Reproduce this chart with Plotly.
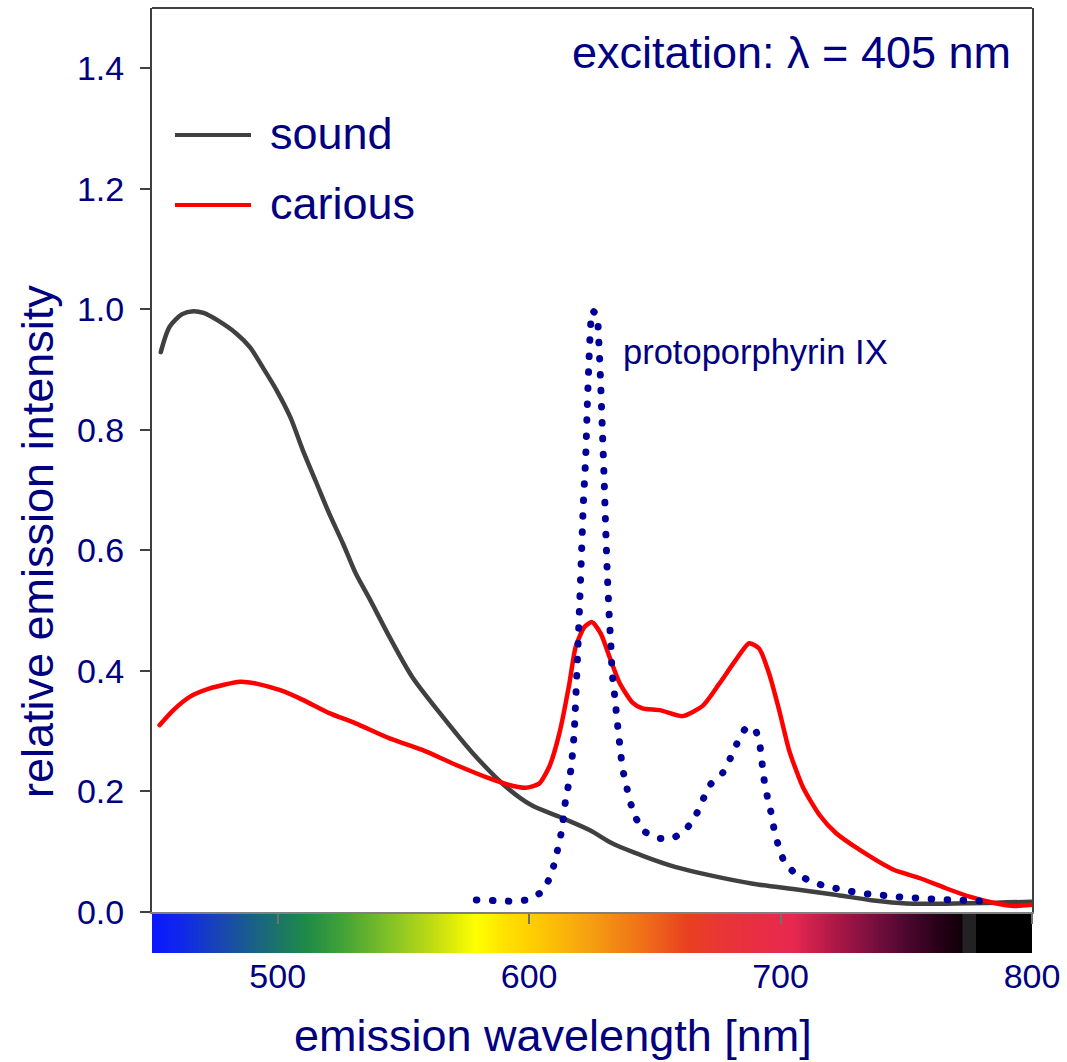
import numpy as np
import plotly.graph_objects as go

# ---------------- data ----------------
sound_nm = [453.5, 457, 462, 466.5, 470.5, 476, 483.5, 489, 494, 499.5, 505, 510,
            515.5, 520.5, 526, 531, 536.5, 544.5, 553.5, 564.5, 577.5, 591, 601,
            612, 624, 633, 646, 658, 673, 689, 705, 721, 737, 750, 769, 782, 790, 800]
sound_y = [0.929, 0.971, 0.992, 0.997, 0.994, 0.982, 0.960, 0.937, 0.904, 0.866,
           0.821, 0.766, 0.711, 0.661, 0.611, 0.562, 0.520, 0.456, 0.390, 0.330,
           0.264, 0.207, 0.177, 0.158, 0.136, 0.114, 0.092, 0.075, 0.060, 0.047,
           0.038, 0.029, 0.019, 0.014, 0.014, 0.015, 0.016, 0.017]

carious_nm = [453, 458.5, 465, 473, 485, 491.5, 501, 510, 520.5, 531, 544.5, 557.5,
              571, 584, 591, 598.5, 604, 608, 612, 616, 618.5, 622, 625, 628.5, 632,
              636, 641, 645, 652, 661, 669, 675.5, 682, 687.5, 691.5, 695.5, 699.5,
              703.5, 709, 715.5, 722, 731.5, 745, 755.5, 766, 775.5, 785, 793, 800]
carious_y = [0.310, 0.335, 0.357, 0.371, 0.382, 0.379, 0.368, 0.352, 0.330, 0.313,
             0.288, 0.269, 0.244, 0.222, 0.212, 0.206, 0.213, 0.241, 0.296, 0.379,
             0.440, 0.473, 0.481, 0.462, 0.423, 0.380, 0.348, 0.338, 0.335, 0.325,
             0.342, 0.378, 0.417, 0.446, 0.437, 0.395, 0.334, 0.267, 0.206, 0.161,
             0.131, 0.103, 0.070, 0.056, 0.039, 0.025, 0.015, 0.010, 0.012]

ppix_nm = [579, 586, 592.5, 599, 605.3, 608.3, 610.2, 611.6, 613, 614.6, 615.9, 616.8,
           617.9, 619.6, 620.1, 620.8, 621.5, 622.5, 623.1, 623.8, 624.4, 625.1, 627.0,
           627.5, 628.4, 629.1, 629.8, 630.4, 631.1, 632.0, 632.4, 633.0, 633.7, 634.4,
           635.0, 635.7, 636.4, 637.3, 638.6, 640.1, 642.3, 645.7, 651.4, 657.8, 662.9,
           666.6, 669.3, 672.2, 677, 680, 682.6, 685.8, 688, 690.3, 691.9, 692.7, 693.5,
           694.7, 696.2, 697.4, 699, 701.1, 705.2, 711, 716.9, 723.3, 729.7, 736.3,
           742.8, 749.1, 755.7, 762.2, 768.6, 775.1, 781.6]
ppix_y = [0.020, 0.019, 0.018, 0.020, 0.034, 0.058, 0.083, 0.109, 0.136, 0.189, 0.216,
          0.243, 0.296, 0.459, 0.512, 0.592, 0.673, 0.755, 0.836, 0.915, 0.971, 0.998,
          0.990, 0.965, 0.882, 0.802, 0.722, 0.642, 0.559, 0.479, 0.452, 0.398, 0.371,
          0.343, 0.317, 0.291, 0.263, 0.235, 0.211, 0.184, 0.157, 0.134, 0.122, 0.124,
          0.140, 0.163, 0.188, 0.212, 0.231, 0.255, 0.279, 0.303, 0.308, 0.299, 0.273,
          0.245, 0.218, 0.192, 0.165, 0.138, 0.112, 0.087, 0.066, 0.053, 0.044, 0.038,
          0.033, 0.029, 0.027, 0.024, 0.023, 0.021, 0.020, 0.019, 0.018]

x_ticks = [500, 600, 700, 800]
y_ticks = [0.0, 0.2, 0.4, 0.6, 0.8, 1.0, 1.2, 1.4]
y_ticktext = ["0.0", "0.2", "0.4", "0.6", "0.8", "1.0", "1.2", "1.4"]

# visible-spectrum strip under the axis (wavelength -> colour)
spectrum_stops = [(450, "#0a18ff"), (462, "#1028e8"), (478, "#1848b0"), (495, "#1a6a78"),
                  (511, "#1e8a48"), (525, "#40a038"), (544, "#80c028"), (564, "#c8e010"),
                  (579, "#ffff00"), (591, "#ffe000"), (600, "#ffd000"), (624, "#f5a010"),
                  (645, "#f07018"), (663, "#e84020"), (679, "#e83438"), (705, "#e82850"),
                  (721, "#b01848"), (735, "#801040"), (749, "#500830"), (763, "#280018"),
                  (772.4, "#100008"), (772.6, "#222222"), (777.6, "#222222"),
                  (777.8, "#000000"), (800, "#000000")]

# ---------------- styling ----------------
FONT = "Liberation Sans, Arial, sans-serif"
NAVY = "#000080"
GRAY = "#404040"
RED = "#ff0000"
DOTBLUE = "#000099"

X_RANGE = [450, 800]
Y_RANGE = [0, 1.5]

L, R, T, B = 152, 35, 8, 109
W, H = 1067, 1062
plot_h = H - T - B
strip_frac = 41 / plot_h

lo, hi = spectrum_stops[0][0], spectrum_stops[-1][0]
colorscale = [[(wl - lo) / (hi - lo), c] for wl, c in spectrum_stops]
strip_x = np.arange(lo, hi + 0.25, 0.5)

fig = go.Figure()

# colour strip (subplot x/y, drawn first so the main axis ticks sit on top)
fig.add_trace(go.Heatmap(x=strip_x, y=[0.5], z=[strip_x], zmin=lo, zmax=hi,
                         colorscale=colorscale, showscale=False, hoverinfo="skip",
                         xaxis="x", yaxis="y"))

fig.add_trace(go.Scatter(x=sound_nm, y=sound_y, mode="lines", name="sound",
                         line=dict(color=GRAY, width=4.5, shape="spline", smoothing=0.8),
                         xaxis="x2", yaxis="y2"))
fig.add_trace(go.Scatter(x=carious_nm, y=carious_y, mode="lines", name="carious",
                         line=dict(color=RED, width=4.5, shape="spline", smoothing=0.6),
                         xaxis="x2", yaxis="y2"))
fig.add_trace(go.Scatter(x=ppix_nm, y=ppix_y, mode="lines", name="protoporphyrin IX",
                         line=dict(color=DOTBLUE, width=7, dash="0.5px,15.5px",
                                   shape="spline", smoothing=0.4),
                         xaxis="x2", yaxis="y2"))

fig.update_layout(
    width=W, height=H,
    margin=dict(l=L, r=R, t=T, b=B),
    paper_bgcolor="white", plot_bgcolor="white",
    showlegend=False,
    font=dict(family=FONT, color=NAVY),
    xaxis=dict(domain=[0, 1], anchor="y", range=X_RANGE, tickvals=x_ticks,
               ticks="", showline=False, showgrid=False, zeroline=False,
               tickfont=dict(size=34, color=NAVY, family=FONT),
               ticklabelstandoff=0),
    yaxis=dict(domain=[0, strip_frac], anchor="x", range=[0, 1], visible=False),
    xaxis2=dict(domain=[0, 1], anchor="y2", range=X_RANGE, tickvals=x_ticks,
                ticks="outside", ticklen=10, tickwidth=2, tickcolor="#707070",
                showticklabels=False, showline=True, linecolor="#808080",
                linewidth=2, showgrid=False, zeroline=False),
    yaxis2=dict(domain=[strip_frac, 1], anchor="x2", range=Y_RANGE,
                tickvals=y_ticks, ticktext=y_ticktext,
                ticks="outside", ticklen=10, tickwidth=2, tickcolor=GRAY,
                showline=True, linecolor=GRAY, linewidth=2, mirror=True,
                showgrid=False, zeroline=False,
                tickfont=dict(size=34, color=NAVY, family=FONT),
                ticklabelstandoff=9),
)

# top frame line
fig.add_shape(type="line", xref="x2 domain", yref="y2 domain", x0=0, x1=1, y0=1, y1=1,
              line=dict(color=GRAY, width=2))

# custom legend (long line samples as in the reference)
def px_x(p):
    return (p - L) / (W - L - R)

def px_y(p):
    return (H - B - p) / plot_h

for name, col, ypx in [("sound", GRAY, 135), ("carious", RED, 205)]:
    fig.add_shape(type="line", xref="paper", yref="paper",
                  x0=px_x(175), x1=px_x(251), y0=px_y(ypx), y1=px_y(ypx),
                  line=dict(color=col, width=4))
    fig.add_annotation(text=name, xref="paper", yref="paper", x=px_x(268), y=px_y(ypx - 2),
                       xanchor="left", yanchor="middle", showarrow=False,
                       font=dict(size=45, color=NAVY, family=FONT))

fig.add_annotation(text="excitation: λ = 405 nm", xref="paper", yref="paper",
                   x=px_x(1013), y=px_y(52), xanchor="right", yanchor="middle",
                   showarrow=False, font=dict(size=45, color=NAVY, family=FONT))

fig.add_annotation(text="protoporphyrin IX", xref="x2", yref="y2", x=636.5, y=0.93,
                   xanchor="left", yanchor="middle", showarrow=False,
                   font=dict(size=34.5, color=NAVY, family=FONT))

fig.add_annotation(text="emission wavelength [nm]", xref="paper", yref="paper",
                   x=px_x(553), y=px_y(1035), xanchor="center", yanchor="middle",
                   showarrow=False, font=dict(size=45, color=NAVY, family=FONT))

fig.add_annotation(text="relative emission intensity", xref="paper", yref="paper",
                   x=px_x(37), y=px_y(542), xanchor="center", yanchor="middle",
                   textangle=-90, showarrow=False,
                   font=dict(size=45, color=NAVY, family=FONT))

post = ("document.body.style.margin='0';"
        "document.body.style.overflow='hidden';"
        "var s=document.createElement('style');"
        "s.textContent='body{margin:0 !important;} .scatterlayer .js-line{stroke-linecap:round;}';"
        "document.head.appendChild(s);")

fig.write_html("out.html", post_script=post, config={"displayModeBar": False})
